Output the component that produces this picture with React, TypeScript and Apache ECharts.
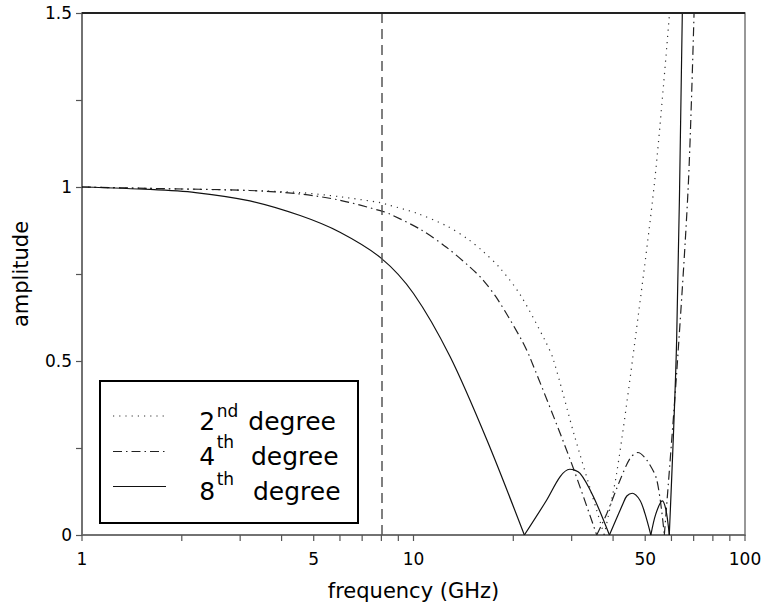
import React, { useEffect, useRef } from 'react';
import * as echarts from 'echarts';

// 2nd degree (dotted)
const deg2Freq = [1, 1.6, 3.2, 4.55, 6.0, 7.94, 8.3, 10.2, 12.6, 14.6, 16.2, 18.2, 21.0, 24.9, 26.4, 30.7, 37.6, 41.0, 46.6, 53.5, 59.1];
const deg2Amp = [1.0, 0.996, 0.99, 0.984, 0.972, 0.955, 0.95, 0.925, 0.888, 0.85, 0.815, 0.768, 0.69, 0.56, 0.505, 0.28, 0, 0.177, 0.56, 1.025, 1.49];

// 4th degree (dash-dot)
const deg4Freq = [1, 1.6, 3.2, 4.55, 6.0, 7.94, 8.5, 10.5, 12.6, 14.8, 16.2, 18.0, 21.2, 22.5, 29.6, 35.7, 38.3, 42.0, 45.0, 47.5, 50.5, 54.2, 57.1, 62.2, 67.4, 70.2];
const deg4Amp = [1.0, 0.996, 0.99, 0.98, 0.962, 0.932, 0.922, 0.878, 0.826, 0.77, 0.733, 0.675, 0.56, 0.508, 0.22, 0, 0.062, 0.158, 0.22, 0.237, 0.216, 0.158, 0, 0.465, 1.0, 1.5];

// 8th degree (solid)
const deg8Freq = [1, 1.6, 2.2, 3.21, 4.55, 6.0, 8.0, 10.0, 12.9, 16.7, 21.6, 25.2, 27.7, 29.6, 31.8, 34.9, 39.0, 42.9, 44.0, 45.7, 48.2, 49.9, 52.0, 53.8, 56.3, 57.8, 59.1, 62.2, 64.7];
const deg8Amp = [1.0, 0.993, 0.984, 0.96, 0.918, 0.87, 0.795, 0.694, 0.512, 0.27, 0, 0.10, 0.168, 0.189, 0.177, 0.11, 0, 0.091, 0.112, 0.12, 0.10, 0.062, 0, 0.06, 0.098, 0.07, 0, 0.56, 1.5];

const xTickValues = [1, 2, 3, 4, 5, 6, 7, 8, 9, 10, 20, 30, 40, 50, 60, 70, 80, 90, 100];
const xLabelValues = [1, 5, 10, 50, 100];
const yLabelValues = [0, 0.5, 1, 1.5];
const markerFreq = 8;
const legendNums = ['2', '4', '8'];
const legendSups = ['nd', 'th', 'th'];
const legendWord = 'degree';

const FONT = 'DejaVu Sans';

// split a curve at its zero crossings so each lobe is smoothed separately (keeps cusps sharp)
function lobes(f: number[], a: number[]) {
  const segs: number[][][] = [];
  let cur: number[][] = [];
  for (let i = 0; i < f.length; i++) {
    cur.push([f[i], a[i]]);
    if (a[i] === 0 && cur.length > 1) {
      segs.push(cur);
      cur = [[f[i], a[i]]];
    }
  }
  if (cur.length > 1) segs.push(cur);
  return segs;
}

export default function App() {
  const ref = useRef<HTMLDivElement>(null);
  useEffect(() => {
    if (!ref.current) return;
    const chart = echarts.init(ref.current, null, { renderer: 'svg' });

    const styles = [
      { name: '2nd degree', f: deg2Freq, a: deg2Amp, ls: { color: '#333', width: 1.2, type: [1.2, 5] } },
      { name: '4th degree', f: deg4Freq, a: deg4Amp, ls: { color: '#222', width: 1.2, type: [9, 4, 1.5, 4] } },
      { name: '8th degree', f: deg8Freq, a: deg8Amp, ls: { color: '#111', width: 1.2, type: 'solid' } },
    ];
    const series: any[] = [];
    styles.forEach((s) => {
      lobes(s.f, s.a).forEach((seg) => {
        series.push({
          type: 'line', name: s.name, data: seg, symbol: 'none', showSymbol: false, clip: true,
          smooth: 0.3, lineStyle: s.ls,
        });
      });
    });
    series[series.length - 1].markLine = {
      silent: true, symbol: ['none', 'none'], label: { show: false },
      lineStyle: { color: '#555', type: [10, 6], width: 1.5 },
      data: [{ xAxis: markerFreq }],
    };

    const option: any = {
      animation: false,
      backgroundColor: '#ffffff',
      grid: { left: 82, right: 17, top: 13, bottom: 72, show: true, borderColor: '#777', borderWidth: 1.5, backgroundColor: 'transparent' },
      xAxis: {
        type: 'log', logBase: 10, min: 1, max: 100,
        name: 'frequency (GHz)', nameLocation: 'middle', nameGap: 45,
        nameTextStyle: { fontFamily: FONT, fontSize: 21, color: '#000' },
        axisLine: { show: true, lineStyle: { color: '#666', width: 1.5 } },
        axisTick: { show: false }, axisLabel: { show: false },
        splitLine: { show: false }, minorTick: { show: false }, minorSplitLine: { show: false },
      },
      yAxis: {
        type: 'value', min: 0, max: 1.5, interval: 0.25,
        name: 'amplitude', nameLocation: 'middle', nameGap: 51,
        nameTextStyle: { fontFamily: FONT, fontSize: 21, color: '#000' },
        axisLine: { show: true, lineStyle: { color: '#666', width: 1.5 } },
        axisTick: { show: true, inside: false, length: 6, lineStyle: { color: '#555', width: 1.2 } },
        axisLabel: {
          margin: 10, fontFamily: FONT, fontSize: 17, color: '#000',
          formatter: (v: number) => (yLabelValues.some((y) => Math.abs(y - v) < 1e-9) ? String(v) : ''),
        },
        splitLine: { show: false },
      },
      series,
    };
    chart.setOption(option);

    const y0 = chart.convertToPixel({ yAxisIndex: 0 }, 0) as number;
    const yTop = chart.convertToPixel({ yAxisIndex: 0 }, 1.5) as number;
    const xL = chart.convertToPixel({ xAxisIndex: 0 }, 1) as number;
    const xR = chart.convertToPixel({ xAxisIndex: 0 }, 100) as number;

    const elements: any[] = [];
    elements.push({ type: 'line', shape: { x1: xL, y1: yTop, x2: xR, y2: yTop }, style: { stroke: '#222', lineWidth: 2 }, z: 10 });
    xTickValues.forEach((v) => {
      const x = chart.convertToPixel({ xAxisIndex: 0 }, v) as number;
      elements.push({ type: 'line', shape: { x1: x, y1: y0, x2: x, y2: y0 + 6 }, style: { stroke: '#555', lineWidth: 1.2 }, z: 10 });
    });
    xLabelValues.forEach((v) => {
      const x = chart.convertToPixel({ xAxisIndex: 0 }, v) as number;
      elements.push({ type: 'text', x, y: y0 + 24, style: { text: String(v), font: `17px "${FONT}"`, fill: '#000', align: 'center', verticalAlign: 'middle' }, z: 10 });
    });

    // legend box
    const lx = 100, ly = 381, lw = 258, lh = 142;
    elements.push({ type: 'rect', shape: { x: lx, y: ly, width: lw, height: lh }, style: { fill: '#fff', stroke: '#000', lineWidth: 2 }, z: 20 });
    const rowY = [416, 451.5, 486.5];
    const textY = [421, 456.3, 491.3];
    const supY = [411, 442, 479];
    const wordX = [248.3, 251, 253];
    legendNums.forEach((n, i) => {
      const st = styles[i].ls as any;
      const ls: any = { stroke: st.color, lineWidth: st.width };
      if (Array.isArray(st.type)) ls.lineDash = st.type;
      elements.push({ type: 'line', shape: { x1: 113, y1: rowY[i], x2: 166, y2: rowY[i] }, style: ls, z: 21 });
      elements.push({ type: 'text', x: 199.3, y: textY[i], style: { text: n, font: `25px "${FONT}"`, fill: '#000', align: 'left', verticalAlign: 'middle' }, z: 21 });
      elements.push({ type: 'text', x: 216.7, y: supY[i], style: { text: legendSups[i], font: `17px "${FONT}"`, fill: '#000', align: 'left', verticalAlign: 'middle' }, z: 21 });
      elements.push({ type: 'text', x: wordX[i], y: textY[i], style: { text: legendWord, font: `25px "${FONT}"`, fill: '#000', align: 'left', verticalAlign: 'middle' }, z: 21 });
    });

    chart.setOption({ graphic: { elements } });

    return () => chart.dispose();
  }, []);
  return <div ref={ref} style={{ position: 'fixed', left: 0, top: 0, width: 762, height: 607 }} />;
}
